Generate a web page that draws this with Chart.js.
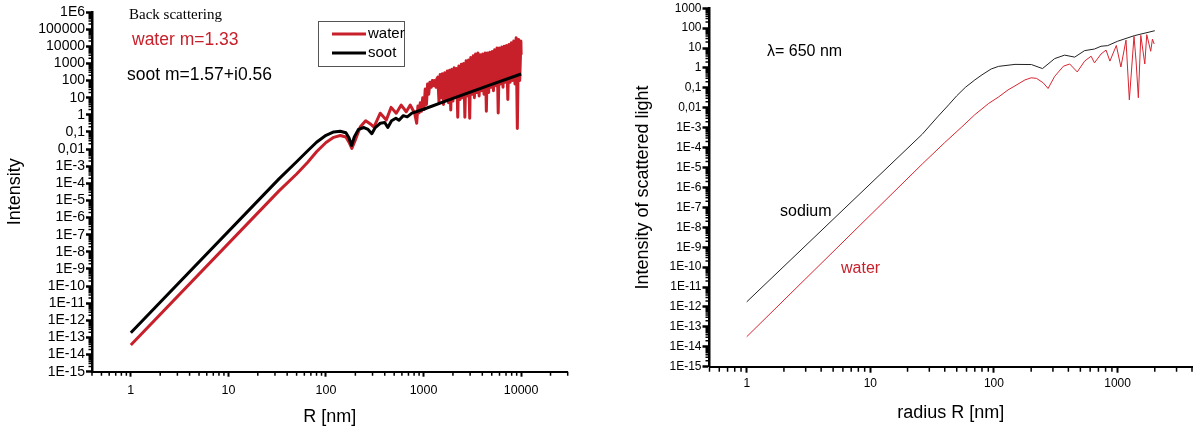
<!DOCTYPE html>
<html lang="en">
<head>
<meta charset="UTF-8">
<title>Back scattering and scattered light intensity</title>
<script src="https://cdn.jsdelivr.net/npm/chart.js"></script>
<style>
  html, body { margin: 0; padding: 0; background: #fff; }
  #wrap { position: relative; width: 1196px; height: 432px; }
  .box { position: absolute; top: 0; height: 432px; }
  #left { left: 0; width: 590px; }
  #right { left: 600px; width: 596px; }
</style>
</head>
<body>
<div id="wrap">
  <div class="box" id="left"><canvas id="backChart"></canvas></div>
  <div class="box" id="right"><canvas id="lightChart"></canvas></div>
</div>

<script>
// ---- left panel: back scattering, R in nm ----
const sootR = [1, 33, 50, 65, 80, 100, 120, 140, 160, 172, 183, 195, 215, 245, 270, 295, 320, 360, 400, 430, 470, 520, 560, 620, 680, 760, 1000, 2000, 5000, 10000];
const sootI = [1.9e-13, 1.8e-4, 1.8e-3, 7.9e-3, 0.025, 0.063, 0.1, 0.11, 0.089, 0.045, 0.016, 0.05, 0.14, 0.18, 0.14, 0.079, 0.18, 0.32, 0.35, 0.18, 0.45, 0.63, 0.48, 0.89, 0.76, 1.26, 2.1, 9.1, 59, 240];

const waterR = [1, 33, 50, 65, 80, 100, 120, 140, 160, 172, 184, 198, 225, 255, 285, 310, 360, 415, 465, 525, 590, 665, 730, 810,
  850, 875, 900, 925, 950, 980, 1010, 1040, 1070, 1100, 1130, 1160, 1200, 1230, 1270, 1300, 1340, 1370,
  1400, 1440, 1480, 1520, 1560, 1600, 1650, 1700, 1750, 1800,
  1850, 1900, 1950, 2000, 2060, 2120, 2180, 2240, 2300, 2370,
  2440, 2510, 2580, 2650, 2730, 2810, 2890, 2970, 3050, 3140,
  3230, 3320, 3410, 3510, 3610, 3710, 3820, 3930, 4040, 4160,
  4280, 4400, 4520, 4650, 4780, 4920, 5060, 5200, 5350, 5500,
  5660, 5820, 5990, 6160, 6340, 6520, 6710, 6900, 7100, 7300,
  7510, 7720, 7940, 8170, 8400, 8640, 8890, 9140, 9400, 9670,
  9940, 10000];
const waterI = [3.6e-14, 3.6e-5, 3.5e-4, 1.7e-3, 6.9e-3, 0.024, 0.048, 0.062, 0.05, 0.025, 0.011, 0.03, 0.2, 0.45, 0.29, 0.19, 1.23, 0.49, 2.7, 1.23, 3.7, 1.5, 3.7, 1.23,
  0.32, 3.2, 1.3, 5, 1.6, 10, 2, 32, 4, 63, 16, 79, 40, 100, 50, 100, 40, 126,
  158, 5, 224, 10, 251, 4, 282, 8, 355, 5,
  398, 1.9, 447, 6.3, 562, 10, 501, 0.72, 708, 7.9,
  891, 10, 1000, 0.72, 1413, 12.6, 1585, 0.63, 2239, 15.8,
  2818, 10, 3548, 20, 3981, 12.6, 3162, 25, 3548, 15.8,
  3981, 1.6, 3981, 20, 4467, 40, 5012, 25, 6310, 50,
  7943, 1.26, 7943, 63, 8913, 40, 10000, 79, 11220, 7.9,
  12590, 79, 15850, 100, 19950, 63, 31620, 0.16, 25120, 100,
  19950, 3162];

// ---- right panel: lambda = 650 nm ----
const sodiumR = [1, 26.3, 35, 43, 50, 58.6, 70, 80, 95, 109, 148, 201, 247, 310, 373, 450, 541, 650, 735, 832, 1000, 1365, 2000];
const sodiumI = [1.8e-12, 4.7e-4, 3.5e-3, 0.014, 0.04, 0.105, 0.25, 0.45, 0.89, 1.2, 1.51, 1.48, 0.93, 2.95, 4.4, 3.5, 7.4, 8.9, 12.3, 13.2, 21.9, 41.7, 74];

const water2R = [1, 26.3, 40, 55, 70, 90, 109, 130, 148, 178, 200, 221, 250, 274, 310, 365, 410, 472, 541, 611, 650, 735, 807, 867, 977, 1064, 1170, 1245, 1358, 1413, 1472, 1542, 1660, 1722, 1854, 1914, 1977];
const water2I = [3.2e-14, 1.5e-5, 1.8e-4, 1.1e-3, 4.5e-3, 0.016, 0.035, 0.079, 0.126, 0.25, 0.32, 0.3, 0.18, 0.093, 0.38, 1.23, 1.58, 0.63, 2.2, 3.9, 1.8, 5.0, 7.9, 2.2, 13.5, 1.12, 25, 0.025, 39, 2.0, 0.032, 43, 1.58, 47, 6.9, 28, 16];

// tick labels, lowest decade first
const leftYLabels = ['1E-15', '1E-14', '1E-13', '1E-12', '1E-11', '1E-10', '1E-9', '1E-8', '1E-7', '1E-6', '1E-5', '1E-4', '1E-3', '0,01', '0,1', '1', '10', '100', '1000', '10000', '100000', '1E6'];
const rightYLabels = ['1E-15', '1E-14', '1E-13', '1E-12', '1E-11', '1E-10', '1E-9', '1E-8', '1E-7', '1E-6', '1E-5', '1E-4', '1E-3', '0,01', '0,1', '1', '10', '100', '1000'];
const xLabels = ['1', '10', '100', '1000', '10000'];

const FONT = '"Liberation Sans", Arial, sans-serif';
const RED = '#c8202b';

function pts(xs, ys) {
  return xs.map((x, i) => ({ x: x, y: ys[i] }));
}

// all decades plus 2..9 in between
function logTicks(min, max) {
  const out = [];
  const lo = Math.floor(Math.log10(min)), hi = Math.ceil(Math.log10(max));
  for (let k = lo; k <= hi; k++) {
    for (let m = 1; m <= 9; m++) {
      const v = m * Math.pow(10, k);
      if (v >= min * 0.999 && v <= max * 1.001) out.push({ value: v, major: m === 1 });
    }
  }
  return out;
}

function logAxis(o) {
  const vertical = o.position === 'left';
  return {
    type: 'logarithmic',
    position: o.position,
    min: o.min,
    max: o.max,
    afterBuildTicks: s => { s.ticks = logTicks(o.min, o.max); },
    afterFit: s => { if (vertical) s.width = o.size; else s.height = o.size; },
    border: { display: true, color: '#000', width: o.axisWidth },
    grid: {
      display: true,
      drawOnChartArea: false,
      drawTicks: true,
      tickLength: o.tickLength,
      tickWidth: o.tickWidth,
      tickColor: c => (c.tick && c.tick.major) ? '#000' : 'rgba(0,0,0,0)'
    },
    ticks: {
      autoSkip: false,
      maxRotation: 0,
      minRotation: 0,
      padding: o.padding,
      color: '#000',
      font: { family: FONT, size: o.fontSize },
      callback: (value, index, ticks) => {
        if (!ticks[index].major) return '';
        return o.labels[Math.round(Math.log10(value)) - o.firstExp] || '';
      }
    },
    title: {
      display: true,
      text: o.title,
      color: '#000',
      font: { family: FONT, size: o.titleSize },
      padding: o.titlePadding
    }
  };
}

// short minor tick marks
const minorTicks = {
  id: 'minorTicks',
  afterDraw(chart, args, opts) {
    const ctx = chart.ctx;
    const xs = chart.scales.x, ys = chart.scales.y;
    ctx.save();
    ctx.strokeStyle = '#000';
    ctx.lineWidth = opts.width;
    ctx.beginPath();
    xs.ticks.forEach(t => {
      if (t.major) return;
      const p = xs.getPixelForValue(t.value);
      ctx.moveTo(p, xs.top);
      ctx.lineTo(p, xs.top + opts.xLen);
    });
    ys.ticks.forEach(t => {
      if (t.major) return;
      const p = ys.getPixelForValue(t.value);
      ctx.moveTo(ys.right, p);
      ctx.lineTo(ys.right - opts.yLen, p);
    });
    ctx.stroke();
    ctx.restore();
  }
};

// free text in the plot
const notes = {
  id: 'notes',
  afterDraw(chart, args, opts) {
    const ctx = chart.ctx;
    ctx.save();
    ctx.textBaseline = 'middle';
    ctx.textAlign = 'left';
    (opts.items || []).forEach(n => {
      ctx.font = n.font;
      ctx.fillStyle = n.color || '#000';
      ctx.fillText(n.text, n.x, n.y);
    });
    ctx.restore();
  }
};

// boxed legend at a fixed spot
const boxLegend = {
  id: 'boxLegend',
  afterDraw(chart, args, opts) {
    if (!opts.show) return;
    const ctx = chart.ctx;
    ctx.save();
    ctx.strokeStyle = '#555';
    ctx.lineWidth = 1;
    ctx.strokeRect(opts.x + 0.5, opts.y + 0.5, opts.w, opts.h);
    ctx.font = opts.font;
    ctx.textBaseline = 'middle';
    opts.order.forEach((di, i) => {
      const ds = chart.data.datasets[di];
      const yy = opts.y + opts.first + i * opts.step;
      ctx.strokeStyle = ds.borderColor;
      ctx.lineWidth = ds.borderWidth;
      ctx.beginPath();
      ctx.moveTo(opts.x + 14, yy);
      ctx.lineTo(opts.x + 48, yy);
      ctx.stroke();
      ctx.fillStyle = '#000';
      ctx.fillText(ds.label, opts.x + 50, yy);
    });
    ctx.restore();
  }
};

new Chart(document.getElementById('backChart'), {
  type: 'line',
  data: {
    datasets: [
      { label: 'water', data: pts(waterR, waterI), borderColor: RED, borderWidth: 3, pointRadius: 0, borderJoinStyle: 'round', order: 2 },
      { label: 'soot', data: pts(sootR, sootI), borderColor: '#000', borderWidth: 3, pointRadius: 0, borderJoinStyle: 'round', order: 1 }
    ]
  },
  options: {
    responsive: true,
    maintainAspectRatio: false,
    animation: false,
    devicePixelRatio: 1,
    layout: { padding: { left: 0, top: 12, right: 22.3, bottom: 0 } },
    scales: {
      x: logAxis({ position: 'bottom', min: 0.4, max: 30000, size: 60.3, axisWidth: 2, tickLength: 5, tickWidth: 2,
        padding: 6, fontSize: 12.5, labels: xLabels, firstExp: 0, title: 'R [nm]', titleSize: 18, titlePadding: { top: 0, bottom: 4 } }),
      y: logAxis({ position: 'left', min: 1e-15, max: 1e6, size: 92, axisWidth: 2.5, tickLength: 6, tickWidth: 2.5,
        padding: 1, fontSize: 14, labels: leftYLabels, firstExp: -15, title: 'Intensity', titleSize: 18, titlePadding: { top: 4, bottom: 0 } })
    },
    plugins: {
      legend: { display: false },
      tooltip: { enabled: false },
      minorTicks: { width: 1.5, xLen: 4, yLen: 3.5 },
      boxLegend: { show: true, x: 318, y: 21, w: 86, h: 45, first: 13, step: 19, order: [0, 1], font: '15px ' + FONT },
      notes: {
        items: [
          { text: 'Back scattering', x: 129, y: 15, font: '15px "Liberation Serif", "Times New Roman", serif' },
          { text: 'water m=1.33', x: 132, y: 40, color: RED, font: '17.5px ' + FONT },
          { text: 'soot m=1.57+i0.56', x: 127, y: 75, font: '17.5px ' + FONT }
        ]
      }
    }
  },
  plugins: [minorTicks, boxLegend, notes]
});

new Chart(document.getElementById('lightChart'), {
  type: 'line',
  data: {
    datasets: [
      { label: 'sodium', data: pts(sodiumR, sodiumI), borderColor: '#222', borderWidth: 1, pointRadius: 0, order: 2 },
      { label: 'water', data: pts(water2R, water2I), borderColor: '#d8252f', borderWidth: 1, pointRadius: 0, order: 1 }
    ]
  },
  options: {
    responsive: true,
    maintainAspectRatio: false,
    animation: false,
    devicePixelRatio: 1,
    layout: { padding: { left: 0, top: 6.7, right: 1, bottom: 0 } },
    scales: {
      x: logAxis({ position: 'bottom', min: 0.5, max: 4000, size: 65.3, axisWidth: 2, tickLength: 6, tickWidth: 2,
        padding: 4, fontSize: 12, labels: xLabels, firstExp: 0, title: 'radius R [nm]', titleSize: 18, titlePadding: { top: 0, bottom: 8 } }),
      y: logAxis({ position: 'left', min: 1e-15, max: 1e3, size: 109.5, axisWidth: 2.5, tickLength: 7, tickWidth: 2.5,
        padding: 1, fontSize: 12, labels: rightYLabels, firstExp: -15, title: 'Intensity of scattered light', titleSize: 18, titlePadding: { top: 32, bottom: 0 } })
    },
    plugins: {
      legend: { display: false },
      tooltip: { enabled: false },
      minorTicks: { width: 1.5, xLen: 5, yLen: 4 },
      boxLegend: { show: false },
      notes: {
        items: [
          { text: 'λ= 650 nm', x: 167, y: 52, font: '16px ' + FONT },
          { text: 'sodium', x: 180, y: 212, font: '16px ' + FONT },
          { text: 'water', x: 241, y: 269, color: RED, font: '16px ' + FONT }
        ]
      }
    }
  },
  plugins: [minorTicks, boxLegend, notes]
});
</script>
</body>
</html>
